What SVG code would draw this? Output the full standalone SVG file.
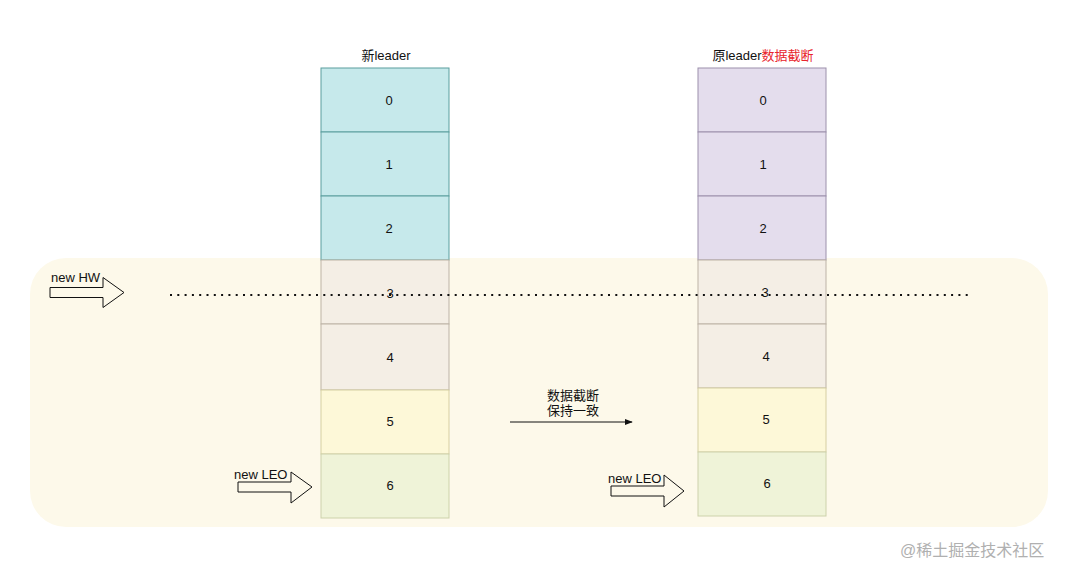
<svg xmlns="http://www.w3.org/2000/svg" width="1080" height="579" viewBox="0 0 1080 579">
<style>
text{font-family:"Liberation Sans","Noto Sans CJK SC",sans-serif;font-size:13px;fill:#111;}
.c{text-anchor:middle;}
.teal{fill:#c6e9eb;stroke:#5a9e9e;stroke-width:1;}
.purp{fill:#e4dded;stroke:#9c90ab;stroke-width:1;}
.grey{fill:#f4eee5;stroke:#bdb3a6;stroke-width:1;}
.yel{fill:#fdf8d8;stroke:#d6cfa2;stroke-width:1;}
.grn{fill:#eff3d8;stroke:#cdd2ab;stroke-width:1;}
.blk{fill:none;stroke:#111;stroke-width:1;}
</style>
<defs>
<marker id="ah" viewBox="0 0 10 10" refX="9" refY="5" markerWidth="8" markerHeight="8" orient="auto" markerUnits="userSpaceOnUse">
<path d="M0,1 L10,5 L0,9 Z" fill="#111"/>
</marker>
</defs>
<rect width="1080" height="579" fill="#ffffff"/>
<rect id="region" x="30" y="258" width="1018" height="269" rx="36" fill="#fdf9ea"/>
<g id="left-column">
<g id="l0"><rect class="teal" x="321" y="68" width="128" height="64"/><text class="c" x="389" y="105">0</text></g>
<g id="l1"><rect class="teal" x="321" y="132" width="128" height="64"/><text class="c" x="389" y="169">1</text></g>
<g id="l2"><rect class="teal" x="321" y="196" width="128" height="64"/><text class="c" x="389" y="233">2</text></g>
<g id="l3"><rect class="grey" x="321" y="260" width="128" height="64"/><text class="c" x="390" y="298">3</text></g>
<g id="l4"><rect class="grey" x="321" y="324" width="128" height="66"/><text class="c" x="390" y="362">4</text></g>
<g id="l5"><rect class="yel" x="321" y="390" width="128" height="64"/><text class="c" x="390" y="426">5</text></g>
<g id="l6"><rect class="grn" x="321" y="454" width="128" height="64"/><text class="c" x="390" y="490">6</text></g>
</g>
<g id="right-column">
<g id="r0"><rect class="purp" x="698" y="68" width="128" height="64"/><text class="c" x="763" y="105">0</text></g>
<g id="r1"><rect class="purp" x="698" y="132" width="128" height="64"/><text class="c" x="763" y="169">1</text></g>
<g id="r2"><rect class="purp" x="698" y="196" width="128" height="64"/><text class="c" x="763" y="233">2</text></g>
<g id="r3"><rect class="grey" x="698" y="260" width="128" height="64"/><text class="c" x="765" y="297">3</text></g>
<g id="r4"><rect class="grey" x="698" y="324" width="128" height="64"/><text class="c" x="766" y="361">4</text></g>
<g id="r5"><rect class="yel" x="698" y="388" width="128" height="64"/><text class="c" x="766" y="424">5</text></g>
<g id="r6"><rect class="grn" x="698" y="452" width="128" height="64"/><text class="c" x="767" y="488">6</text></g>
</g>
<g id="titles">
<text class="c" x="386" y="60">新leader</text>
<text class="c" x="763" y="60">原leader<tspan style="fill:#e8242c">数据截断</tspan></text>
</g>
<g id="connectors">
<line x1="170" y1="295" x2="970" y2="295" stroke="#111" stroke-width="2" stroke-dasharray="2 5.3"/>
<line x1="510" y1="422" x2="632" y2="422" stroke="#111" stroke-width="1" marker-end="url(#ah)"/>
</g>
<g id="hw-arrow">
<path class="blk" d="M50,287.5 L103,287.5 L103,277.5 L124,292.5 L103,307.5 L103,297.5 L50,297.5 Z"/>
<text x="51" y="282">new HW</text>
</g>
<g id="leo-left">
<path class="blk" d="M238,482 L291,482 L291,472 L312,487 L291,503 L291,492 L238,492 Z"/>
<text x="234" y="479">new LEO</text>
</g>
<g id="leo-right">
<path class="blk" d="M611,486 L664,486 L664,475 L684,491 L664,507 L664,496 L611,496 Z"/>
<text x="608" y="483">new LEO</text>
</g>
<g id="mid-label">
<text class="c" x="573" y="400">数据截断</text>
<text class="c" x="573" y="415">保持一致</text>
</g>
<text x="900" y="556" style="font-size:16px;fill:#b0b0b0">@稀土掘金技术社区</text>
</svg>
